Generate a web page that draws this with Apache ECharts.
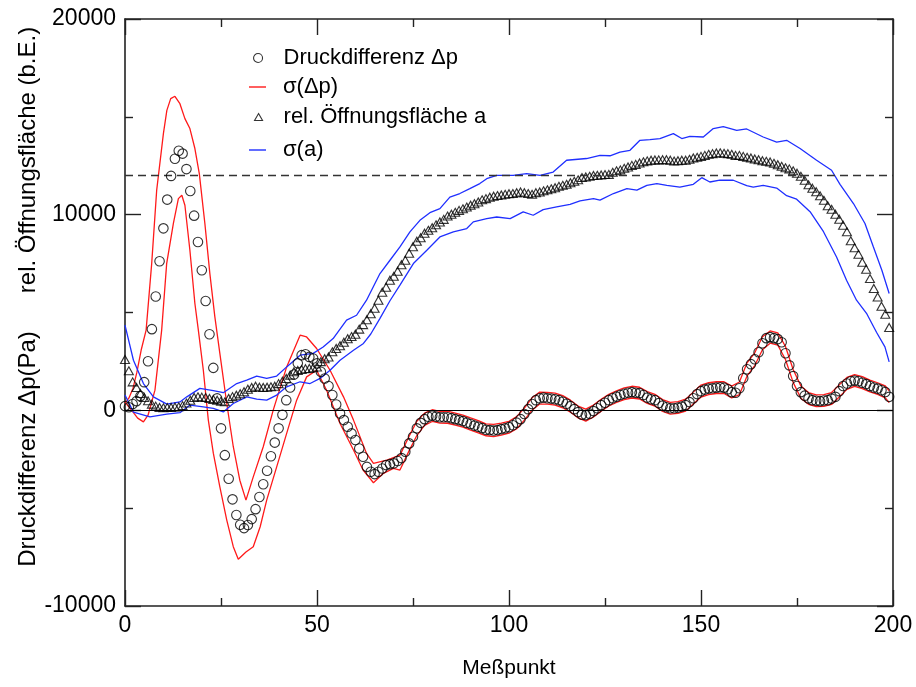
<!DOCTYPE html>
<html><head><meta charset="utf-8">
<script src="https://cdn.jsdelivr.net/npm/echarts@6/dist/echarts.min.js"></script>
<style>html,body{margin:0;padding:0;background:#fff}#c{width:916px;height:687px}</style>
</head><body><div id="c"></div>
<script>
// Measured pressure difference Δp per Meßpunkt (index 0..199)
const dp = [215,160,320,470,725,1440,2510,4150,5820,7620,9300,10770,11980,12860,13270,13120,12330,11210,9950,8600,
7160,5590,3890,2170,610,-920,-2290,-3500,-4550,-5350,-5850,-6020,-5860,-5560,-5050,-4430,-3780,-3090,-2350,-1650,
-920,-230,520,1170,1830,2400,2820,2870,2730,2650,2400,1970,1630,1240,780,300,-160,-500,-840,-1180,
-1520,-1950,-2370,-2890,-3140,-3260,-3140,-2970,-2800,-2750,-2710,-2590,-2440,-2120,-1690,-1350,-920,-640,-450,-330,
-270,-320,-350,-350,-350,-400,-450,-500,-550,-630,-700,-780,-840,-910,-990,-1010,-1030,-1010,-960,-920,
-860,-760,-630,-450,-190,60,320,520,620,650,620,600,570,520,440,340,215,60,-90,-220,
-245,-170,-40,110,265,390,520,620,700,780,850,900,930,900,880,780,650,570,520,370,
240,160,110,110,140,190,265,420,620,830,980,1060,1110,1130,1160,1180,1160,1080,930,900,
1130,1640,2100,2360,2610,2970,3430,3690,3740,3690,3640,3480,2920,2300,1750,1240,930,750,610,520,
490,470,500,520,600,690,980,1240,1370,1490,1520,1490,1410,1340,1240,1170,1110,1030,940,690];

// relative opening area a per Meßpunkt (index 0..199)
const area = [2600,2020,1455,1170,860,660,485,317,215,150,130,140,150,165,180,240,370,520,660,690,
675,660,610,555,520,470,435,610,700,775,850,955,1080,1170,1235,1185,1170,1185,1200,1235,
1365,1490,1630,1800,1975,2040,2090,2130,2140,2180,2220,2490,2640,2730,2990,3160,3300,3480,3660,3770,
3890,4150,4380,4630,4940,5220,5630,6040,6290,6650,6850,7110,7440,7670,8030,8360,8640,8820,9050,9200,
9330,9480,9630,9760,9930,10020,10120,10220,10300,10390,10480,10560,10650,10760,10820,10890,10940,10975,11005,11040,
11070,11080,11120,11160,11120,11080,11040,11120,11160,11220,11270,11320,11375,11450,11500,11550,11630,11705,11780,11895,
11925,11960,12000,12010,12030,12050,12060,12165,12240,12290,12370,12435,12520,12570,12640,12700,12750,12780,12795,12800,
12810,12810,12780,12740,12760,12780,12780,12830,12895,12930,12980,13030,13085,13120,13150,13160,13135,13120,13085,13030,
13030,12980,12930,12895,12850,12810,12760,12725,12690,12625,12550,12470,12395,12340,12240,12115,11960,11755,11525,11350,
11170,10965,10735,10455,10275,10020,9765,9460,9125,8665,8310,7975,7570,7210,6735,6225,5795,5320,4915,4235];

// σ(Δp) band: upper and lower limits
const sigDpUpX = [0,1,2.1,3.1,4.2,5.5,6.95,8.25,10,10.9,11.9,13,14.3,15.6,16.9,18.2,19.35,20.8,22.1,23.4,24.7,26.5,28.2,29.9,31.5,33.4,36,38.6,42.1,45.6,47.3,49.9,53.4,56.9,59.5,62.9,64.7,68.2,71.6,
74,76,78,80,82,84,86,88,90,92,94,96,98,100,102,104,106,108,110,112,114,116,118,120,122,124,126,128,130,132,134,136,138,140,142,144,146,148,150,152,154,156,158,160,162,164,166,168,170,172,174,176,178,180,182,184,186,188,190,192,194,196,198,199];
const sigDpUpY = [370,620,1130,1950,3070,4100,7500,11250,14140,15330,15930,16050,15670,14910,14400,13380,12100,9550,6990,4780,2910,350,-1860,-3570,-4590,-3400,-1860,10,2220,3840,3750,3160,2050,690,-500,-2200,-2710,-2540,-2290,
-1320,-560,-140,30,-50,-40,-140,-240,-390,-530,-690,-720,-650,-560,-320,120,640,930,920,880,750,520,220,60,270,570,820,1000,1150,1230,1180,960,820,550,410,440,570,930,1290,1410,1460,1460,1240,1450,2430,2940,3760,4060,3960,3260,2090,1250,910,790,800,910,1300,1680,1830,1720,1540,1410,1250,1000];
const sigDpLoX = [0,2.1,3.3,4.8,6,7.8,9.55,10.85,12.6,13.9,14.8,15.6,16.9,18.2,19.1,20.4,21.7,23,24.7,26.5,28.2,29.5,31.5,33.4,35.2,36.9,39.5,42.1,44.7,47.3,49.9,52.5,56,59.5,62,64.7,67.3,69.9,71.6,
74,76,78,80,82,84,86,88,90,92,94,96,98,100,102,104,106,108,110,112,114,116,118,120,122,124,126,128,130,132,134,136,138,140,142,144,146,148,150,152,154,156,158,160,162,164,166,168,170,172,174,176,178,180,182,184,186,188,190,192,194,196,198,199];
const sigDpLoY = [420,-90,-400,-590,-250,1030,4100,7500,9550,10820,10990,10480,8180,5460,4100,2050,-500,-2190,-3910,-5610,-6970,-7610,-7240,-6970,-5950,-4590,-2890,-1180,520,1710,2050,1030,-670,-2030,-3050,-3700,-3220,-2970,-3050,
-2060,-1290,-770,-570,-650,-660,-760,-860,-1010,-1150,-1300,-1340,-1270,-1170,-940,-500,10,320,320,270,130,-90,-390,-550,-340,-40,220,400,550,630,580,350,220,-60,-190,-160,-40,320,680,800,860,860,630,800,1760,2290,3100,3430,3330,2600,1430,620,310,190,200,300,680,1070,1220,1110,940,810,640,390];

// σ(a) band: upper and lower limits
const sigAUpX = [0,2.2,4.8,7.4,10.9,14.3,16.1,19.5,23,25.6,29.1,31.7,34.3,36.9,39.5,42.1,45.6,49,51.6,54.2,57.7,60.3,62.9,66.4,69,71.6,74.2,76.8,79.4,82,84.6,87.2,89.8,92.4,94.2,96.8,101.1,104.6,108.1,111.5,115,120.2,123.7,126.3,128.9,131.5,134.1,136.7,139.3,142.8,145,147.1,150.6,153.2,155.8,159.3,161.9,166.2,169.7,172.3,175.8,180.1,184,186.2,189.7,192.7,194.9,197.1,199];
const sigAUpY = [4350,2560,1370,690,320,430,690,1120,1010,900,1370,1540,1750,1630,1750,2220,2820,2910,3240,3670,4610,4860,5630,6990,7670,8350,9120,9710,10100,10310,10900,11080,11330,11590,11840,12010,12010,12100,12010,12180,12780,12870,13030,13010,13200,13290,13800,13840,13890,14140,13890,14000,13970,14400,14500,14310,14380,13970,13710,13800,13380,12780,12270,11550,10570,9550,8350,7160,5970];
const sigALoX = [0,2.2,6.5,10.9,14.3,16.9,20.4,23,25.6,28.2,31.7,34.3,36.9,39.5,42.1,45.6,48.2,50.8,53.4,56,59.5,62.1,64,66.4,69,71.6,75.1,78.6,82,85.5,89,90.7,94.2,96.8,100.3,103.7,106.3,108.9,112.4,115.9,118.5,122,123.7,127.2,130.7,133.3,135.9,138.5,141.1,144.5,148,150.2,152.3,154.9,158.4,161.9,163.6,166.2,169.7,172.3,174.9,178.4,181.9,185.3,187.9,190.5,193.1,195.7,197.9,199];
const sigALoY = [780,-90,-330,-190,-120,270,180,100,-80,350,690,570,520,780,1200,1460,1370,1630,2050,2560,3070,3420,3900,4700,5600,6400,7500,8180,8860,9120,9290,9630,9800,9880,9800,10140,9970,10260,10400,10530,10700,10820,10740,11080,11330,11250,11500,11590,11500,11410,11550,11890,11670,11760,11760,11480,11410,11500,11360,10970,10790,10150,9130,7840,6650,5630,4960,3990,3240,2480];

// reference lines
const refLines = [0, 12000];
const xTicks = {min: 0, max: 200, interval: 50};
const yTicks = {min: -10000, max: 20000, interval: 10000};

const names = ['Druckdifferenz Δp', 'σ(Δp)', 'rel. Öffnungsfläche a', 'σ(a)'];
const FONT = '"Liberation Sans", Arial, sans-serif';
const RED = '#ff1a1a', BLUE = '#1f2fff';

const zip = (xs, ys) => xs.map((x, i) => [x, ys[i]]);
const idxPairs = ys => ys.map((v, i) => [i, v]);

const chart = echarts.init(document.getElementById('c'), null, {renderer: 'canvas'});

const axisCommon = {
  axisLine: {show: true, onZero: false, lineStyle: {color: '#222', width: 1.6}},
  axisTick: {show: true, inside: true, length: 16, lineStyle: {color: '#222', width: 1.4}},
  minorTick: {show: true, splitNumber: 2, length: 8, lineStyle: {color: '#222', width: 1.4}},
  splitLine: {show: false},
  minorSplitLine: {show: false}
};

function lineSeries(name, data, color) {
  return {name, type: 'line', data, symbol: 'none', showSymbol: false,
    lineStyle: {color, width: 1.3}, itemStyle: {color}, z: 2, silent: true};
}

const legendText = pad => ({fontSize: 22, color: '#000', fontFamily: FONT, padding: [0, 0, 0, pad]});

const option = {
  animation: false,
  backgroundColor: '#fff',
  grid: {left: 125, right: 23, top: 19, bottom: 81, containLabel: false},
  xAxis: [
    Object.assign({type: 'value', position: 'bottom', min: xTicks.min, max: xTicks.max, interval: xTicks.interval,
      name: 'Meßpunkt', nameLocation: 'middle', nameGap: 52,
      nameTextStyle: {fontSize: 21, color: '#000', fontFamily: FONT},
      axisLabel: {fontSize: 23, color: '#000', fontFamily: FONT, margin: 8, formatter: v => String(v)}}, axisCommon),
    Object.assign({type: 'value', position: 'top', min: xTicks.min, max: xTicks.max, interval: xTicks.interval,
      axisLabel: {show: false}}, axisCommon)
  ],
  yAxis: [
    Object.assign({type: 'value', position: 'left', min: yTicks.min, max: yTicks.max, interval: yTicks.interval,
      axisLabel: {fontSize: 23, color: '#000', fontFamily: FONT, margin: 9, formatter: v => String(v)}}, axisCommon),
    Object.assign({type: 'value', position: 'right', min: yTicks.min, max: yTicks.max, interval: yTicks.interval,
      axisLabel: {show: false}}, axisCommon)
  ],
  legend: [
    {data: [{name: names[0], icon: 'circle', itemStyle: {color: 'rgba(0,0,0,0)', borderColor: '#000', borderWidth: 1.1}}],
     left: 253, top: 47, padding: 0, itemWidth: 9, itemHeight: 9, selectedMode: false, textStyle: legendText(16)},
    {data: [{name: names[1], icon: 'rect', itemStyle: {color: RED}}],
     left: 249, top: 76, padding: 0, itemWidth: 17, itemHeight: 1.4, selectedMode: false, textStyle: legendText(12)},
    {data: [{name: names[2], icon: 'triangle', itemStyle: {color: 'rgba(0,0,0,0)', borderColor: '#000', borderWidth: 1.1}}],
     left: 254, top: 106, padding: 0, itemWidth: 8, itemHeight: 7, selectedMode: false, textStyle: legendText(16)},
    {data: [{name: names[3], icon: 'rect', itemStyle: {color: BLUE}}],
     left: 249, top: 139, padding: 0, itemWidth: 17, itemHeight: 1.4, selectedMode: false, textStyle: legendText(12)}
  ],
  graphic: [
    {type: 'text', x: 28, y: 449, rotation: Math.PI / 2, silent: true,
     style: {text: 'Druckdifferenz Δp(Pa)', fill: '#000', font: '24px ' + FONT,
       align: 'center', verticalAlign: 'middle', textAlign: 'center', textVerticalAlign: 'middle'}},
    {type: 'text', x: 28, y: 160, rotation: Math.PI / 2, silent: true,
     style: {text: 'rel. Öffnungsfläche (b.E.)', fill: '#000', font: '24px ' + FONT,
       align: 'center', verticalAlign: 'middle', textAlign: 'center', textVerticalAlign: 'middle'}}
  ],
  series: [
    Object.assign(lineSeries(names[1], zip(sigDpUpX, sigDpUpY), RED), {
      markLine: {silent: true, symbol: 'none', label: {show: false}, animation: false,
        data: [
          {yAxis: refLines[0], lineStyle: {color: '#000', width: 1.2, type: 'solid'}},
          {yAxis: refLines[1], lineStyle: {color: '#333', width: 1.3, type: [8, 5]}}
        ]}
    }),
    lineSeries(names[1], zip(sigDpLoX, sigDpLoY), RED),
    lineSeries(names[3], zip(sigAUpX, sigAUpY), BLUE),
    lineSeries(names[3], zip(sigALoX, sigALoY), BLUE),
    {name: names[2], type: 'scatter', data: idxPairs(area), symbol: 'triangle', symbolSize: [9, 8], z: 4, silent: true,
     itemStyle: {color: 'rgba(0,0,0,0)', borderColor: '#000', borderWidth: 1.1}},
    {name: names[0], type: 'scatter', data: idxPairs(dp), symbol: 'circle', symbolSize: 9.5, z: 5, silent: true,
     itemStyle: {color: 'rgba(0,0,0,0)', borderColor: '#000', borderWidth: 1.1}}
  ]
};
chart.setOption(option);
</script>
</body></html>
